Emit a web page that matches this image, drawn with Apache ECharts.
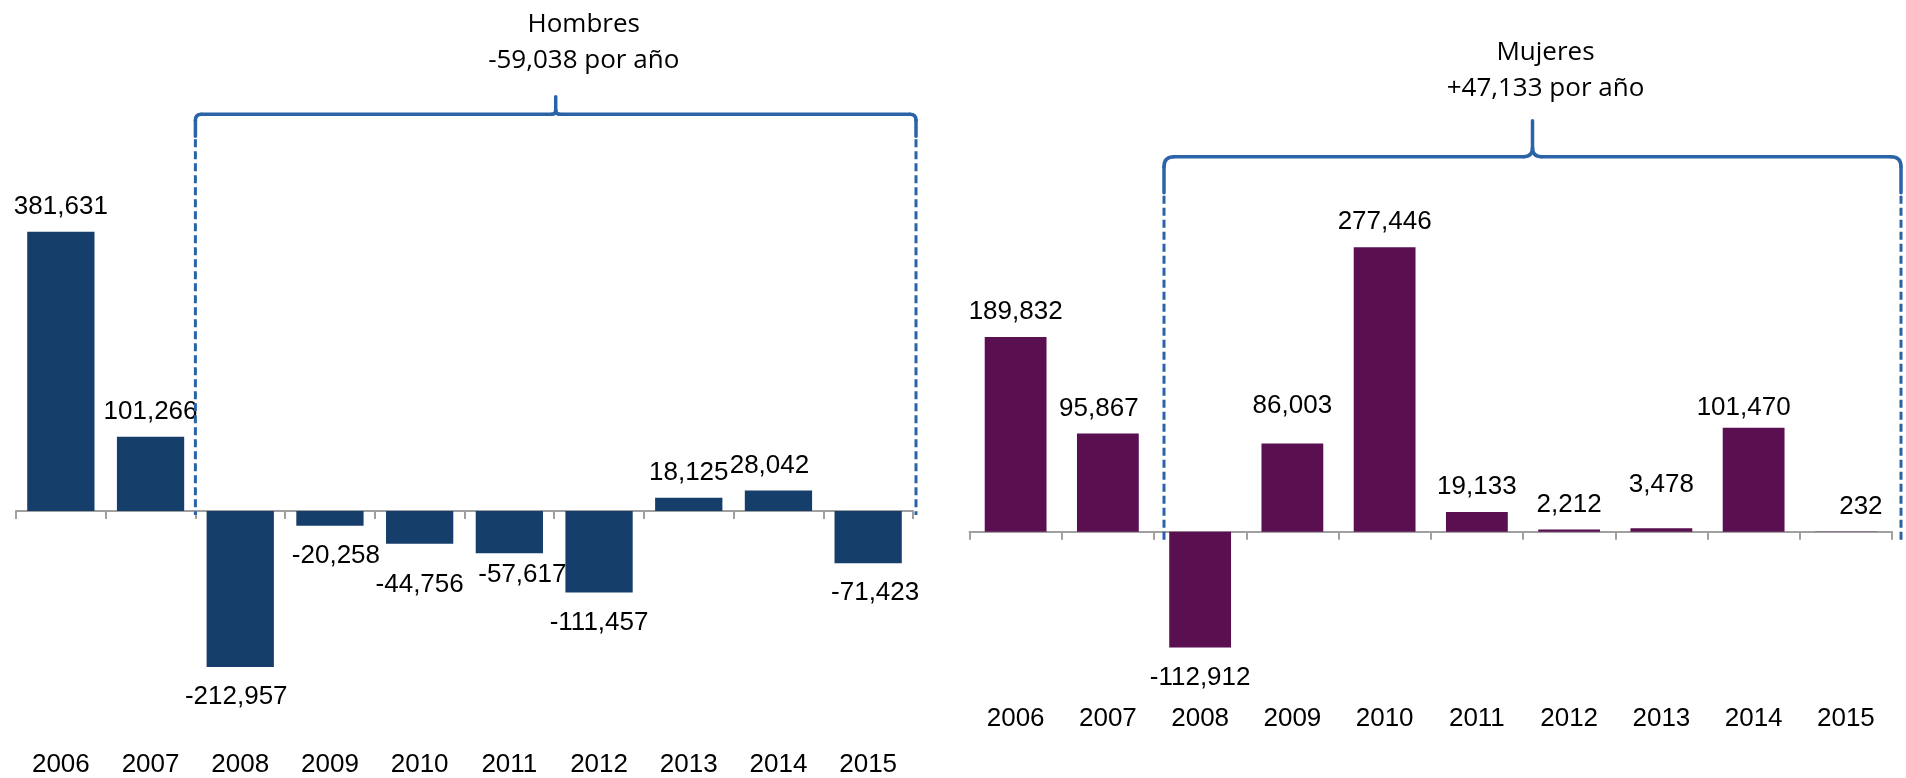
<!DOCTYPE html>
<html>
<head>
<meta charset="utf-8">
<script src="https://cdn.jsdelivr.net/npm/echarts@6/dist/echarts.min.js"></script>
<style>
html,body{margin:0;padding:0;background:#fff;}
#c{width:1906px;height:778px;}
</style>
</head>
<body>
<div id="c"></div>
<script>
// ---- data ----
const years = ['2006','2007','2008','2009','2010','2011','2012','2013','2014','2015'];
const hombres = [381631, 101266, -212957, -20258, -44756, -57617, -111457, 18125, 28042, -71423];
const mujeres = [189832, 95867, -112912, 86003, 277446, 19133, 2212, 3478, 101470, 232];
const titleHombres = ['Hombres', '-59,038 por año'];
const titleMujeres = ['Mujeres', '+47,133 por año'];

// ---- label nudges (style only) ----
const nudgeH = [[0,0],[0,0],[-4,0],[6,0],[0,11],[13,-8],[0,0],[0,0],[-9,0],[7,0]];
const nudgeM = [[0,0],[-9,0],[0,0],[0,-13],[0,0],[0,0],[0,0],[0,-18],[-10,5],[15,0]];

const NUM_FONT = '"Liberation Sans", Arial, sans-serif';
const TITLE_FONT = '"Open Sans", "Noto Sans", sans-serif';
const BLUE = '#163E6A';
const PURPLE = '#5A0F51';
const BRACKET = '#2A63A6';
const AXIS = '#A0A0A0';

function fmt(v){ return Number(v).toLocaleString('en-US'); }
function items(vals, nudges){
  return vals.map((v,i)=>({
    value: v,
    label: { position: v < 0 ? 'bottom' : 'top', distance: v < 0 ? 17 : 12, offset: nudges[i] }
  }));
}
// zero-line axis: line + ticks, no labels
function zeroAxis(gi){
  return {
    gridIndex: gi, type: 'category', data: years,
    axisLine: { onZero: true, lineStyle: { color: AXIS, width: 2 } },
    axisTick: { show: true, length: 8, lineStyle: { color: AXIS, width: 2 } },
    axisLabel: { show: false },
    splitLine: { show: false }
  };
}
// bottom axis: labels only
function labelAxis(gi, margin){
  return {
    gridIndex: gi, type: 'category', data: years, position: 'bottom',
    axisLine: { show: false, onZero: false },
    axisTick: { show: false },
    axisLabel: { show: true, margin: margin, fontSize: 26, color: '#000', fontFamily: NUM_FONT, interval: 0 },
    splitLine: { show: false }
  };
}
function barSeries(i, vals, nudges, color, gap){
  return {
    type: 'bar', xAxisIndex: i, yAxisIndex: i,
    data: items(vals, nudges),
    barCategoryGap: gap,
    itemStyle: { color: color },
    label: { show: true, formatter: p => fmt(p.value), fontSize: 26, color: '#000', fontFamily: NUM_FONT },
    emphasis: { disabled: true },
    animation: false
  };
}

const chart = echarts.init(document.getElementById('c'), null, { renderer: 'canvas' });
chart.setOption({
  animation: false,
  backgroundColor: '#fff',
  grid: [
    { left: 16, right: 993, top: 181.6, bottom: 47.4, outerBoundsMode: 'none' },
    { left: 969.5, right: 14, top: 224.2, bottom: 92.55, outerBoundsMode: 'none' }
  ],
  xAxis: [ zeroAxis(0), zeroAxis(1), labelAxis(0, 21), labelAxis(1, 20) ],
  yAxis: [
    { gridIndex: 0, type: 'value', min: -300000, max: 450000, show: false },
    { gridIndex: 1, type: 'value', min: -150000, max: 300000, show: false }
  ],
  series: [
    barSeries(0, hombres, nudgeH, BLUE, '25%'),
    barSeries(1, mujeres, nudgeM, PURPLE, '33%')
  ]
});

function bounds(ai){
  const p = years.map(y => chart.convertToPixel({ xAxisIndex: ai }, y));
  const band = p[1] - p[0];
  return { startBracket: (p[1] + p[2]) / 2, end: p[p.length-1] + band/2,
           zero: chart.convertToPixel({ yAxisIndex: ai }, 0) };
}

function bracket(xL, xR, yH, hp, hd, r, r2, yDashEnd){
  const xC = (xL + xR) / 2;
  const ls = { stroke: BRACKET, lineWidth: 3.5, fill: null, lineCap: 'round' };
  const ds = { stroke: BRACKET, lineWidth: 3, fill: null, lineDash: [8, 4] };
  const line = (x1,y1,x2,y2,st) => ({ type: 'line', z: 100, silent: true, shape: {x1,y1,x2,y2}, style: st || ls });
  const q = (x1,y1,cx,cy,x2,y2) => ({ type: 'bezierCurve', z: 100, silent: true, shape: {x1,y1,cpx1:cx,cpy1:cy,x2,y2}, style: ls });
  return [
    line(xL, yH + r, xL, yH + hd),
    q(xL, yH + r, xL, yH, xL + r, yH),
    line(xL + r, yH, xC - r2, yH),
    q(xC - r2, yH, xC, yH, xC, yH - r2),
    line(xC, yH - r2, xC, yH - hp),
    q(xC + r2, yH, xC, yH, xC, yH - r2),
    line(xC + r2, yH, xR - r, yH),
    q(xR - r, yH, xR, yH, xR, yH + r),
    line(xR, yH + r, xR, yH + hd),
    line(xL, yH + hd + 3, xL, yDashEnd, ds),
    line(xR, yH + hd + 3, xR, yDashEnd, ds)
  ];
}
function titleText(lines, x, y, lh){
  return { type: 'text', z: 100, silent: true, x: x, y: y,
    style: { text: lines.join('\n'), fontSize: 26, fontFamily: TITLE_FONT, fill: '#000',
             align: 'center', verticalAlign: 'top', lineHeight: lh } };
}

const bH = bounds(0), bM = bounds(1);
const lxL = bH.startBracket, lxR = bH.end + 3;
const rxL = bM.startBracket + 10, rxR = bM.end + 9;
chart.setOption({
  graphic: [].concat(
    bracket(lxL, lxR, 114.3, 17.6, 22, 6, 4, bH.zero + 4),
    bracket(rxL, rxR, 156.7, 36, 36, 10, 9, bM.zero + 10),
    [ titleText(titleHombres, (lxL + lxR) / 2 + 28, 6.3, 36.5),
      titleText(titleMujeres, (rxL + rxR) / 2 + 13, 34.3, 36) ]
  )
});
</script>
</body>
</html>
